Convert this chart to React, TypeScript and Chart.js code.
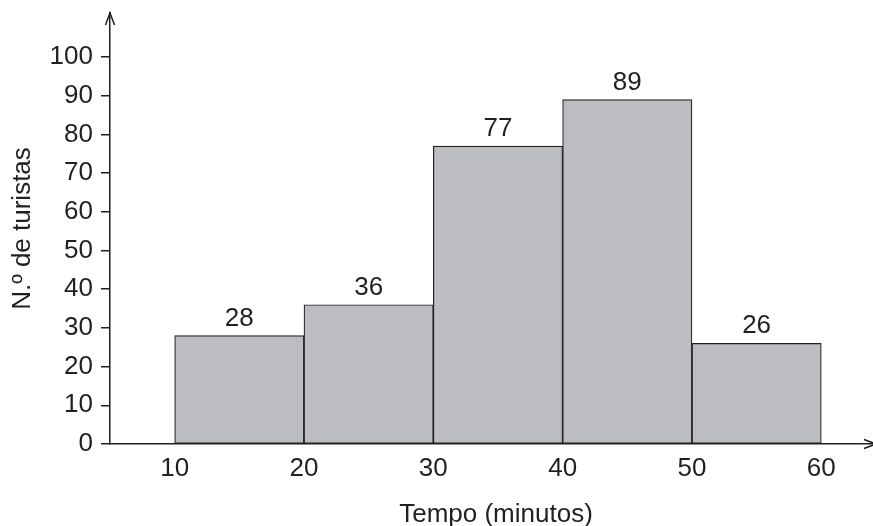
import { useEffect, useRef } from "react";
import { Chart, registerables } from "chart.js";

Chart.register(...registerables);

// ---- data ----
const intervalStarts = [10, 20, 30, 40, 50];
const intervalEnds = [20, 30, 40, 50, 60];
const tourists = [28, 36, 77, 89, 26];
const xTickValues = [10, 20, 30, 40, 50, 60];
const yTickValues = [0, 10, 20, 30, 40, 50, 60, 70, 80, 90, 100];
const xTitle = "Tempo (minutos)";
const yTitle = "N.º de turistas";

const INK = "#231f20";
const FONT_FAMILY = '"Liberation Sans", Arial, Helvetica, sans-serif';

const valueLabels = {
  id: "valueLabels",
  afterDatasetsDraw(chart: any) {
    const ctx = chart.ctx;
    const meta = chart.getDatasetMeta(0);
    ctx.save();
    ctx.fillStyle = INK;
    ctx.font = `26px ${FONT_FAMILY}`;
    ctx.textAlign = "center";
    ctx.textBaseline = "alphabetic";
    meta.data.forEach((el: any, i: number) => {
      ctx.fillText(String(tourists[i]), el.x, el.y - 10);
    });
    ctx.restore();
  },
};

const axisArrows = {
  id: "axisArrows",
  afterDraw(chart: any) {
    const { ctx, chartArea } = chart;
    const { left, top, right, bottom } = chartArea;
    ctx.save();
    ctx.strokeStyle = INK;
    ctx.lineWidth = 1.5;
    ctx.lineJoin = "miter";
    // up arrow
    ctx.beginPath();
    ctx.moveTo(left - 4.5, top + 12);
    ctx.lineTo(left, top);
    ctx.lineTo(left + 4.5, top + 12);
    ctx.stroke();
    // right arrow
    ctx.beginPath();
    ctx.moveTo(right - 9, bottom - 4.5);
    ctx.lineTo(right + 3, bottom);
    ctx.lineTo(right - 9, bottom + 4.5);
    ctx.stroke();
    // x title
    ctx.fillStyle = INK;
    ctx.font = `26px ${FONT_FAMILY}`;
    ctx.textAlign = "center";
    ctx.textBaseline = "alphabetic";
    ctx.fillText(xTitle, 496, 522);
    ctx.restore();
  },
};

export default function App() {
  const canvasRef = useRef<HTMLCanvasElement | null>(null);

  useEffect(() => {
    if (!canvasRef.current) return;
    const points = tourists.map((v, i) => ({
      x: (intervalStarts[i] + intervalEnds[i]) / 2,
      y: v,
    }));
    const chart = new Chart(canvasRef.current, {
      type: "bar",
      data: {
        datasets: [
          {
            data: points as any,
            backgroundColor: "#bcbdc0",
            borderColor: INK,
            borderWidth: 1.2,
            borderSkipped: false,
            barPercentage: 1,
            categoryPercentage: 1,
          },
        ],
      },
      options: {
        responsive: false,
        animation: false,
        events: [],
        layout: { padding: { top: 13, right: 0, bottom: 0, left: 0 } },
        plugins: {
          legend: { display: false },
          tooltip: { enabled: false },
          title: { display: false },
        },
        scales: {
          x: {
            type: "linear",
            min: 5,
            max: 64,
            offset: false,
            afterBuildTicks: (scale: any) => {
              scale.ticks = xTickValues.map((v) => ({ value: v }));
            },
            afterFit: (scale: any) => {
              scale.height = 82;
              scale.paddingLeft = 0;
              scale.paddingRight = 0;
            },
            grid: {
              display: true,
              drawOnChartArea: false,
              drawTicks: false,
              color: "rgba(0,0,0,0)",
            },
            border: { display: true, color: INK, width: 1.5 },
            ticks: {
              color: INK,
              font: { family: FONT_FAMILY, size: 26 },
              padding: 9,
              maxRotation: 0,
              autoSkip: false,
            },
          },
          y: {
            type: "linear",
            min: 0,
            max: 111.4,
            afterBuildTicks: (scale: any) => {
              scale.ticks = yTickValues.map((v) => ({ value: v }));
            },
            afterFit: (scale: any) => {
              scale.width = 110;
              scale.paddingTop = 0;
              scale.paddingBottom = 0;
            },
            grid: {
              display: true,
              drawOnChartArea: false,
              drawTicks: true,
              tickLength: 9,
              color: INK,
              lineWidth: 1.5,
            },
            border: { display: true, color: INK, width: 1.5 },
            ticks: {
              color: INK,
              font: { family: FONT_FAMILY, size: 26 },
              padding: 8,
              autoSkip: false,
            },
            title: {
              display: true,
              text: yTitle,
              color: INK,
              font: { family: FONT_FAMILY, size: 26 },
              padding: { top: 7, bottom: 0 },
            },
          },
        },
      },
      plugins: [valueLabels, axisArrows],
    });
    return () => chart.destroy();
  }, []);

  return (
    <div style={{ position: "absolute", left: 0, top: 0, width: 873, height: 526, background: "#fff" }}>
      <canvas ref={canvasRef} width={873} height={526} style={{ display: "block" }} />
    </div>
  );
}
